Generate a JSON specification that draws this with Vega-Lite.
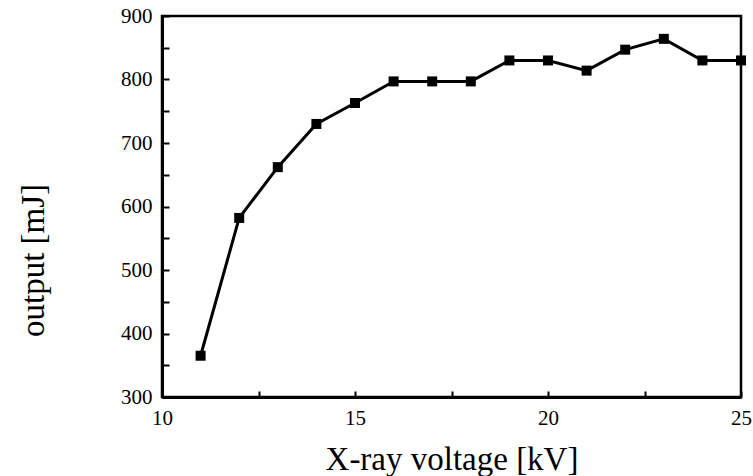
{
  "$schema": "https://vega.github.io/schema/vega-lite/v6.json",
  "width": 579,
  "height": 381,
  "autosize": {"type": "none"},
  "padding": {"left": 162, "top": 16, "right": 12, "bottom": 79},
  "background": "white",
  "config": {
    "view": {"stroke": "black", "strokeWidth": 2.5},
    "font": "Liberation Serif",
    "axis": {
      "domainColor": "black",
      "domainWidth": 3,
      "tickColor": "black",
      "tickWidth": 2,
      "grid": false,
      "labelFont": "Liberation Serif",
      "titleFont": "Liberation Serif",
      "labelColor": "black",
      "titleColor": "black",
      "labelFontSize": 21,
      "titleFontSize": 33,
      "titleFontWeight": "normal",
      "labelFontWeight": "normal"
    }
  },
  "data": {
    "values": [
      {"kV": 11, "mJ": 365},
      {"kV": 12, "mJ": 582},
      {"kV": 13, "mJ": 662},
      {"kV": 14, "mJ": 730},
      {"kV": 15, "mJ": 763},
      {"kV": 16, "mJ": 797},
      {"kV": 17, "mJ": 797},
      {"kV": 18, "mJ": 797},
      {"kV": 19, "mJ": 830},
      {"kV": 20, "mJ": 830},
      {"kV": 21, "mJ": 814},
      {"kV": 22, "mJ": 847},
      {"kV": 23, "mJ": 864},
      {"kV": 24, "mJ": 830},
      {"kV": 25, "mJ": 830}
    ]
  },
  "encoding": {
    "x": {
      "field": "kV",
      "type": "quantitative",
      "scale": {"domain": [10, 25], "nice": false, "zero": false},
      "axis": {
        "title": "X-ray voltage [kV]",
        "values": [10, 12.5, 15, 17.5, 20, 22.5, 25],
        "labelExpr": "datum.value % 5 == 0 ? datum.label : ''",
        "tickSize": -6,
        "labelFont": "Liberation Serif",
        "labelFontSize": 21,
        "labelBaseline": "alphabetic",
        "labelPadding": 33,
        "labelFlush": false,
        "titleY": 72,
        "titleBaseline": "alphabetic"
      }
    },
    "y": {
      "field": "mJ",
      "type": "quantitative",
      "scale": {"domain": [300, 900], "nice": false, "zero": false},
      "axis": {
        "title": "output [mJ]",
        "values": [300, 350, 400, 450, 500, 550, 600, 650, 700, 750, 800, 850, 900],
        "labelExpr": "datum.value % 100 == 0 ? datum.label : ''",
        "tickSize": -7,
        "labelFont": "Liberation Serif",
        "labelFontSize": 21,
        "labelPadding": 17,
        "labelFlush": false,
        "titleX": -119,
        "titleY": 244,
        "titleBaseline": "alphabetic",
        "titleAngle": -90
      }
    }
  },
  "layer": [
    {"mark": {"type": "line", "color": "black", "strokeWidth": 3}},
    {"mark": {"type": "point", "shape": "square", "filled": true, "color": "black", "size": 100, "opacity": 1}}
  ]
}
